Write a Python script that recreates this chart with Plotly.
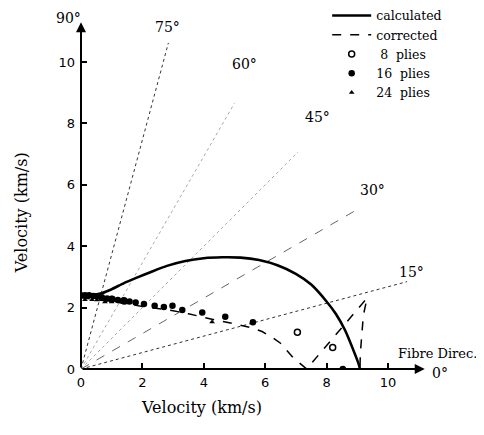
import numpy as np
import plotly.graph_objects as go

# ---------------- data ----------------
calc_x = [0, 0.4, 0.7, 1.0, 1.4, 1.8, 2.3, 2.8, 3.4, 4.0, 4.6, 5.2, 5.8, 6.4, 7.0, 7.5, 8.0, 8.3, 8.6, 8.9, 9.05, 9.09]
calc_y = [2.4, 2.42, 2.48, 2.6, 2.8, 2.97, 3.17, 3.36, 3.52, 3.61, 3.64, 3.63, 3.55, 3.38, 3.1, 2.75, 2.2, 1.8, 1.27, 0.55, 0.15, 0.0]

corr_x = [0, 1.0, 2.0, 3.0, 3.5, 4.0, 4.5, 5.0, 5.5, 5.9, 6.2, 6.5, 6.9, 7.35, 9.32, 9.2, 9.15, 9.1, 9.09]
corr_y = [2.32, 2.2, 2.04, 1.9, 1.8, 1.68, 1.57, 1.47, 1.36, 1.22, 1.05, 0.84, 0.38, 0.0, 2.31, 1.75, 1.2, 0.5, 0.0]

p8_x = [1.0, 1.4, 7.05, 8.2]
p8_y = [2.27, 2.22, 1.2, 0.7]

p16_x = [0, 0.13, 0.26, 0.39, 0.52, 0.68, 0.85, 1.02, 1.2, 1.38, 1.58, 1.78, 2.05, 2.4, 2.7, 2.98, 3.3, 3.95, 4.7, 5.6, 8.53]
p16_y = [2.4, 2.4, 2.4, 2.38, 2.36, 2.34, 2.3, 2.28, 2.25, 2.22, 2.2, 2.17, 2.12, 2.06, 2.02, 2.06, 1.92, 1.84, 1.7, 1.52, 0.0]

p24_x = [0.13, 0.36, 0.52, 0.78, 1.0, 1.43, 4.27]
p24_y = [2.26, 2.26, 2.25, 2.18, 2.18, 2.15, 1.53]

ray_angles = [15, 30, 45, 60, 75]
ray_length = [11.0, 10.4, 10.0, 10.0, 11.0]
ray_dash = ["dot", "dash", "dot", "dot", "dot"]
ray_color = ["#333", "#666", "#aaa", "#aaa", "#333"]

angle_labels = ["90°", "75°", "60°", "45°", "30°", "15°", "0°"]
angle_label_pos = [(-0.42, 11.43), (2.83, 11.14), (5.34, 9.93), (7.72, 8.21), (9.51, 5.83), (10.78, 3.16), (11.69, -0.13)]

legend_names = ["calculated", "corrected", "\u00a08\u00a0 plies", "16\u00a0 plies", "24\u00a0 plies"]

tick_vals = [0, 2, 4, 6, 8, 10]

X_RANGE = [0, 13]
Y_RANGE = [0, 11.6]

SERIF = "DejaVu Serif"
SANS = "DejaVu Sans"

fig = go.Figure()

# radial guide lines
for a, r, d, c in zip(ray_angles, ray_length, ray_dash, ray_color):
    t = np.deg2rad(a)
    fig.add_trace(go.Scatter(x=[0, r * np.cos(t)], y=[0, r * np.sin(t)], mode="lines",
                             line=dict(color=c, width=1, dash=d), showlegend=False, hoverinfo="skip"))

fig.add_trace(go.Scatter(x=calc_x, y=calc_y, mode="lines", name=legend_names[0],
                         line=dict(color="black", width=2.6, shape="spline", smoothing=0.6)))
fig.add_trace(go.Scatter(x=corr_x, y=corr_y, mode="lines", name=legend_names[1],
                         line=dict(color="black", width=1.5, dash="dash")))
fig.add_trace(go.Scatter(x=p8_x, y=p8_y, mode="markers", name=legend_names[2],
                         marker=dict(symbol="circle-open", size=6, color="black", line=dict(width=1.5))))
fig.add_trace(go.Scatter(x=p16_x, y=p16_y, mode="markers", name=legend_names[3],
                         marker=dict(symbol="circle", size=6.5, color="black")))
fig.add_trace(go.Scatter(x=p24_x, y=p24_y, mode="markers", name=legend_names[4],
                         marker=dict(symbol="triangle-up", size=5, color="black")))

# axes with arrows
fig.add_annotation(x=11.2, y=0, ax=0, ay=0, xref="x", yref="y", axref="x", ayref="y",
                   showarrow=True, arrowhead=2, arrowsize=1, arrowwidth=2, arrowcolor="black", text="")
fig.add_annotation(x=0, y=11.3, ax=0, ay=0, xref="x", yref="y", axref="x", ayref="y",
                   showarrow=True, arrowhead=2, arrowsize=1, arrowwidth=2, arrowcolor="black", text="")

for txt, (lx, ly) in zip(angle_labels, angle_label_pos):
    fig.add_annotation(x=(lx - X_RANGE[0]) / (X_RANGE[1] - X_RANGE[0]),
                       y=(ly - Y_RANGE[0]) / (Y_RANGE[1] - Y_RANGE[0]),
                       xref="paper", yref="paper", xanchor="center", yanchor="middle",
                       text=txt, showarrow=False,
                       font=dict(family=SERIF, size=14, color="black"))
fig.add_annotation(x=11.6, y=0.5, text="Fibre Direc.", showarrow=False,
                   xanchor="center", yanchor="middle",
                   font=dict(family=SERIF, size=13, color="black"))

fig.update_layout(
    width=484, height=435,
    margin=dict(l=73, r=12, t=5, b=74, autoexpand=False),
    paper_bgcolor="white", plot_bgcolor="white",
    showlegend=True,
    legend=dict(x=0.617, y=1.034, xanchor="left", yanchor="top", bgcolor="rgba(0,0,0,0)",
                font=dict(family=SERIF, size=12.5, color="black"), tracegroupgap=0, itemwidth=39),
    xaxis=dict(range=X_RANGE, tickvals=tick_vals, ticks="inside", ticklen=6, tickwidth=1.5, tickcolor="black",
               showgrid=False, zeroline=False, showline=False, ticklabelstandoff=4,
               tickfont=dict(family=SANS, size=13, color="black")),
    yaxis=dict(range=Y_RANGE, tickvals=tick_vals, ticks="inside", ticklen=6, tickwidth=1.5, tickcolor="black",
               showgrid=False, zeroline=False, showline=False, ticklabelstandoff=5,
               tickfont=dict(family=SANS, size=13, color="black")),
)

fig.add_annotation(x=0.303, y=-0.107, xref="paper", yref="paper", text="Velocity (km/s)", showarrow=False,
                   xanchor="center", yanchor="middle", font=dict(family=SERIF, size=16, color="black"))
fig.add_annotation(x=-0.15, y=0.438, xref="paper", yref="paper", text="Velocity (km/s)", showarrow=False,
                   textangle=-90, xanchor="center", yanchor="middle", font=dict(family=SERIF, size=16, color="black"))

fig.write_html("out.html")
